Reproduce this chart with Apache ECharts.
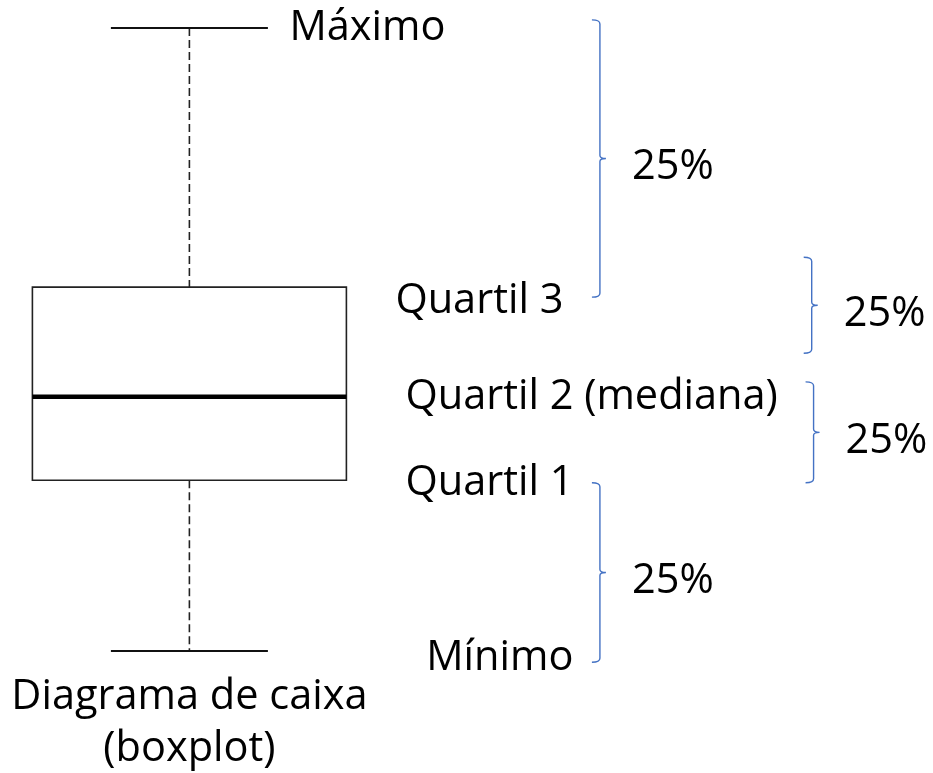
<!DOCTYPE html>
<html>
<head>
<meta charset="utf-8">
<script src="https://cdn.jsdelivr.net/npm/echarts@6/dist/echarts.min.js"></script>
<style>
  html, body { margin: 0; padding: 0; background: #fff; }
  #chart { width: 933px; height: 773px; }
</style>
</head>
<body>
<div id="chart"></div>
<script>
// box statistics (value scale 0..100)
const statNames = ["Mínimo", "Quartil 1", "Quartil 2 (mediana)", "Quartil 3", "Máximo"];
const boxStats = [0, 27.4, 40.8, 58.4, 100]; // min, Q1, median, Q3, max
const boxPos = 20.3;
const boxTitle = ["Diagrama de caixa", "(boxplot)"];

// the blue braces: [from, to] on the same value scale
const braceFrom = [56.8, 47.8, 27.0, -1.8];
const braceTo = [101.3, 63.2, 43.2, 27.0];
const braceText = ["25%", "25%", "25%", "25%"];

// which column each brace sits in
const braceCol = [64.3, 87.0, 87.2, 64.3];

const FONT = "'Open Sans'";
const FSIZE = 41.5;

// where the stat labels go, relative to the box (px)
const labelLayout = {
  "Máximo": { dx: 100, dy: 0, align: "left" },
  "Quartil 3": { dx: 374, dy: 14, align: "right" },
  "Quartil 2 (mediana)": { dx: 216, dy: 0, align: "left" },
  "Quartil 1": { dx: 216, dy: 3, align: "left" },
  "Mínimo": { dx: 384, dy: 7, align: "right" }
};

const chart = echarts.init(document.getElementById("chart"), null, { renderer: "canvas" });

function renderBox(params, api) {
  const x = api.value(0);
  const pMax = api.coord([x, api.value(5)]);
  const pQ3 = api.coord([x, api.value(4)]);
  const pMed = api.coord([x, api.value(3)]);
  const pQ1 = api.coord([x, api.value(2)]);
  const pMin = api.coord([x, api.value(1)]);
  const cx = pMax[0];
  const halfBox = 157, halfCap = 78.5;
  const dash = { stroke: "#222", lineWidth: 1.6, lineDash: [8, 4] };
  const solid = { stroke: "#111", lineWidth: 2 };
  return {
    type: "group",
    children: [
      { type: "line", shape: { x1: cx, y1: pMax[1], x2: cx, y2: pQ3[1] }, style: dash },
      { type: "line", shape: { x1: cx, y1: pQ1[1], x2: cx, y2: pMin[1] }, style: dash },
      { type: "line", shape: { x1: cx - halfCap, y1: pMax[1], x2: cx + halfCap, y2: pMax[1] }, style: solid },
      { type: "line", shape: { x1: cx - halfCap, y1: pMin[1], x2: cx + halfCap, y2: pMin[1] }, style: solid },
      {
        type: "rect",
        shape: { x: cx - halfBox, y: pQ3[1], width: halfBox * 2, height: pQ1[1] - pQ3[1] },
        style: { fill: "#fff", stroke: "#222", lineWidth: 1.6 }
      },
      { type: "line", shape: { x1: cx - halfBox, y1: pMed[1], x2: cx + halfBox, y2: pMed[1] }, style: { stroke: "#000", lineWidth: 4.5 } },
      {
        type: "text",
        style: {
          x: cx, y: pMin[1] + 72, text: boxTitle.join("\n"),
          font: FSIZE + "px " + FONT, fill: "#000", align: "center", verticalAlign: "middle", lineHeight: 52
        }
      },
      ...statNames.map((name, i) => {
        const lay = labelLayout[name];
        const p = api.coord([x, boxStats[i]]);
        return {
          type: "text",
          style: {
            x: cx + lay.dx, y: p[1] + lay.dy, text: name,
            font: FSIZE + "px " + FONT, fill: "#000", align: lay.align, verticalAlign: "middle"
          }
        };
      })
    ]
  };
}

function renderBrace(params, api) {
  const top = api.coord([api.value(0), api.value(2)]);
  const bot = api.coord([api.value(0), api.value(1)]);
  const x = top[0];
  const y0 = top[1], y1 = bot[1], ym = (y0 + y1) / 2;
  const path =
    "M" + (x - 8) + " " + y0 +
    " Q" + x + " " + y0 + " " + x + " " + (y0 + 4) +
    " L" + x + " " + (ym - 3) +
    " Q" + x + " " + ym + " " + (x + 6) + " " + ym +
    " Q" + x + " " + ym + " " + x + " " + (ym + 3) +
    " L" + x + " " + (y1 - 4) +
    " Q" + x + " " + y1 + " " + (x - 8) + " " + y1;
  return {
    type: "group",
    children: [
      { type: "path", shape: { pathData: path }, style: { fill: "none", stroke: "#4472C4", lineWidth: 1.4 } },
      {
        type: "text",
        style: {
          x: x + 32, y: ym + 9, text: braceText[params.dataIndex],
          font: FSIZE + "px " + FONT, fill: "#000", align: "left", verticalAlign: "middle"
        }
      }
    ]
  };
}

const option = {
  animation: false,
  backgroundColor: "#fff",
  grid: { left: 0, right: 0, top: 28, bottom: 122 },
  xAxis: { type: "value", min: 0, max: 100, show: false },
  yAxis: { type: "value", min: 0, max: 100, show: false },
  series: [
    {
      type: "custom",
      renderItem: renderBox,
      clip: false,
      data: [[boxPos, ...boxStats]]
    },
    {
      type: "custom",
      renderItem: renderBrace,
      clip: false,
      data: braceCol.map((c, i) => [c, braceFrom[i], braceTo[i]])
    }
  ]
};

chart.setOption(option);
</script>
</body>
</html>
